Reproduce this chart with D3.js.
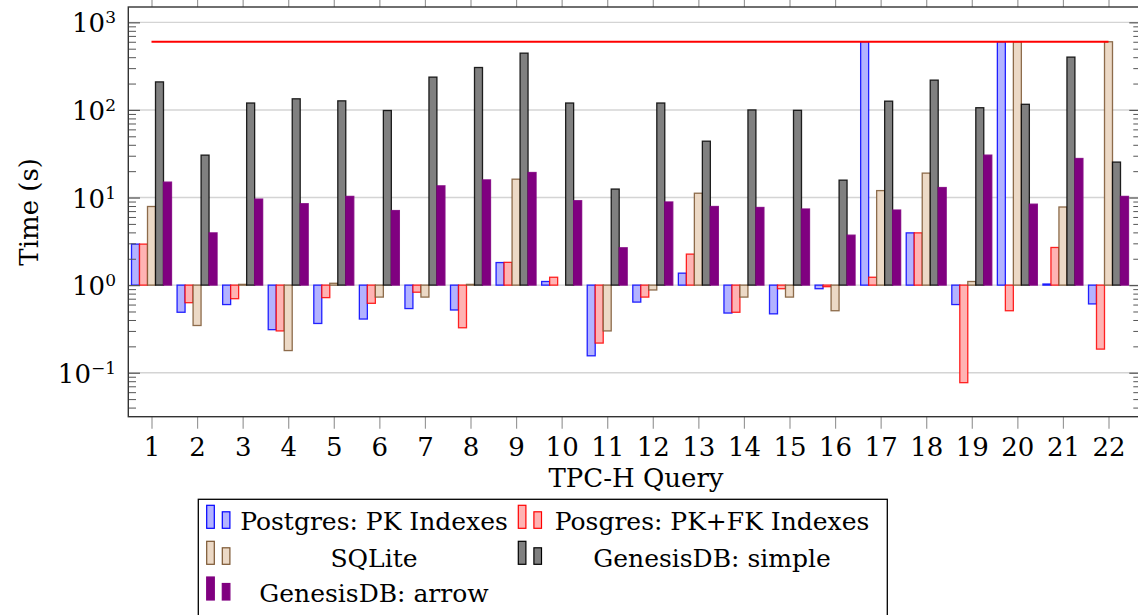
<!DOCTYPE html>
<html>
<head>
<meta charset="utf-8">
<script src="https://cdn.jsdelivr.net/npm/d3@7"></script>
<style>
    html, body { margin: 0; padding: 0; background: #fff; }
    svg { display: block; }
    svg text { font-family: "DejaVu Serif", "Liberation Serif", serif; }
</style>
</head>
<body>
<svg id="chart"></svg>
<script>
// TPC-H query times in seconds
const queries = [1, 2, 3, 4, 5, 6, 7, 8, 9, 10, 11, 12, 13, 14, 15, 16, 17, 18, 19, 20, 21, 22];
const pgPk   = [2.94, 0.49, 0.60, 0.31, 0.365, 0.41, 0.54, 0.52, 1.81, 1.10, 0.156, 0.64, 1.37, 0.48, 0.47, 0.91, 600, 3.95, 0.60, 600, 1.03, 0.61];
const pgPkFk = [2.94, 0.63, 0.70, 0.30, 0.72, 0.62, 0.83, 0.326, 1.82, 1.23, 0.218, 0.73, 2.26, 0.49, 0.91, 0.96, 1.23, 3.95, 0.077, 0.51, 2.69, 0.186];
const sqlite = [7.9, 0.346, 1.02, 0.179, 1.05, 0.73, 0.73, 1.02, 16.2, 1.0, 0.30, 0.88, 11.2, 0.73, 0.73, 0.51, 12.0, 19.0, 1.10, 600, 7.8, 600];
const gdbSimple = [209, 30.5, 120, 134, 127, 98.5, 237, 305, 445, 120, 12.5, 120, 44, 100, 99, 15.8, 126, 219, 106, 116, 401, 25.4];
const gdbArrow  = [15.0, 3.95, 9.6, 8.5, 10.3, 7.1, 13.6, 15.9, 19.3, 9.2, 2.67, 8.9, 7.9, 7.7, 7.4, 3.72, 7.2, 13.0, 30.5, 8.4, 27.9, 10.3];
const timeout = 600;

const seriesNames = ["Postgres: PK Indexes", "Posgres: PK+FK Indexes", "SQLite", "GenesisDB: simple", "GenesisDB: arrow"];
const seriesValues = [pgPk, pgPkFk, sqlite, gdbSimple, gdbArrow];
const yMajor = [0.1, 1, 10, 100, 1000];

const fills   = ["#b3b3ff", "#ffb3b3", "#ecd9c6", "#808080", "#800080"];
const strokes = ["#0000ff", "#ff0000", "#7a5530", "#000000", "#800080"];

let width = 1138, height = 615;
const plotLeft = 128.3, plotRight = 1141, plotTop = 7, plotBottom = 416.7;
const fontSize = 25;
const fontFamily = "DejaVu Serif";

let svg = d3.select("#chart")
    .attr("width", width)
    .attr("height", height);

let x = d3.scaleLinear().domain([1, 22]).range([151.5, 1108.5]);
let y = d3.scaleLog().domain([Math.pow(10, -1.502), Math.pow(10, 3.175)]).range([plotBottom, plotTop]);
let inner = d3.scaleBand().domain(seriesNames).range([-20, 20]);

// minor log ticks 2..9 per decade
let minor = [];
[-2, -1, 0, 1, 2, 3].forEach(function (e) {
    for (let m = 2; m <= 9; m++) {
        let v = m * Math.pow(10, e);
        if (v > y.domain()[0] && v < y.domain()[1]) minor.push(v);
    }
});

// horizontal grid
svg.append("g")
    .selectAll("line")
    .data(yMajor)
    .enter()
    .append("line")
    .attr("x1", plotLeft).attr("x2", plotRight)
    .attr("y1", function (d) { return y(d); })
    .attr("y2", function (d) { return y(d); })
    .attr("stroke", "#d4d4d4")
    .attr("stroke-width", 1.4);

// bars
let rows = [];
queries.forEach(function (q, i) {
    seriesNames.forEach(function (s, j) {
        rows.push({q: q, s: s, j: j, v: seriesValues[j][i]});
    });
});

svg.append("g")
    .selectAll("rect")
    .data(rows)
    .enter()
    .append("rect")
    .attr("x", function (d) { return x(d.q) + inner(d.s); })
    .attr("width", inner.bandwidth())
    .attr("y", function (d) { return Math.min(y(d.v), y(1)); })
    .attr("height", function (d) { return Math.abs(y(d.v) - y(1)); })
    .attr("fill", function (d) { return fills[d.j]; })
    .attr("stroke", function (d) { return strokes[d.j]; })
    .attr("stroke-opacity", 0.85)
    .attr("stroke-width", 1.3);

// timeout line
svg.append("path")
    .datum([queries[0], queries[queries.length - 1]])
    .attr("d", d3.line()
        .x(function (d) { return x(d); })
        .y(function () { return y(timeout); }))
    .attr("fill", "none")
    .attr("stroke", "#ff0000")
    .attr("stroke-width", 2);

// y axes, left and right, ticks pointing in
function yTicks(g, side) {
    let mk = side === "left" ? d3.axisLeft : d3.axisRight;
    g.call(mk(y).tickValues(minor).tickSize(-7.7).tickFormat(""))
        .call(function (s) { s.select(".domain").remove(); });
    g.selectAll(".tick line").attr("stroke", "#555").attr("stroke-width", 1);
    let m = g.append("g").call(mk(y).tickValues(yMajor).tickSize(-11.7).tickFormat(""));
    m.select(".domain").remove();
    m.selectAll(".tick line").attr("stroke", "#555").attr("stroke-width", 1.2);
}
svg.append("g").attr("transform", "translate(" + plotLeft + ",0)").call(yTicks, "left");
svg.append("g").attr("transform", "translate(" + plotRight + ",0)").call(yTicks, "right");

// y tick labels 10^n
let yl = svg.append("g")
    .selectAll("text")
    .data(yMajor)
    .enter()
    .append("text")
    .attr("x", 116)
    .attr("y", function (d) { return y(d) + 10; })
    .attr("text-anchor", "end")
    .attr("font-family", fontFamily)
    .attr("font-size", fontSize + 1)
    .attr("fill", "#000");
yl.append("tspan").text("10");
yl.append("tspan")
    .attr("font-size", 17)
    .attr("dy", -9)
    .text(function (d) { return d3.format("d")(Math.log10(d)).replace("-", "\u2212"); });

// x axes: bottom with labels, top ticks only
let xb = svg.append("g")
    .attr("transform", "translate(0," + plotBottom + ")")
    .call(d3.axisBottom(x).tickValues(queries).tickSize(12).tickPadding(9).tickFormat(d3.format("d")));
xb.select(".domain").remove();
xb.selectAll(".tick line").attr("stroke", "#999").attr("stroke-width", 1.2);
xb.selectAll(".tick text")
    .attr("font-size", fontSize + 1)
    .attr("font-family", fontFamily)
    .attr("fill", "#000");

let xt = svg.append("g")
    .attr("transform", "translate(0," + plotTop + ")")
    .call(d3.axisTop(x).tickValues(queries).tickSize(8).tickFormat(""));
xt.select(".domain").remove();
xt.selectAll(".tick line").attr("stroke", "#999").attr("stroke-width", 1.2);

// frame
svg.append("rect")
    .attr("x", plotLeft).attr("y", plotTop)
    .attr("width", plotRight - plotLeft).attr("height", plotBottom - plotTop)
    .attr("fill", "none")
    .attr("stroke", "#333")
    .attr("stroke-width", 1.4);

// axis titles
svg.append("text")
    .attr("x", 636)
    .attr("y", 487)
    .attr("text-anchor", "middle")
    .attr("font-family", fontFamily)
    .attr("font-size", fontSize + 1)
    .text("TPC-H Query");

svg.append("text")
    .attr("transform", "translate(38," + ((plotTop + plotBottom) / 2) + ") rotate(-90)")
    .attr("text-anchor", "middle")
    .attr("font-family", fontFamily)
    .attr("font-size", fontSize + 1)
    .text("Time (s)");

// legend
let lg = svg.append("g");
lg.append("rect")
    .attr("x", 198.3).attr("y", 499.3)
    .attr("width", 689).attr("height", 140)
    .attr("fill", "#fff")
    .attr("stroke", "#000")
    .attr("stroke-width", 1.3);

const iconX = [206.7, 518.3], textX = [374, 712];
const rowBottom = [528.3, 564.3, 600], rowBase = [530, 566.5, 601.5];

let items = lg.selectAll("g.item")
    .data(seriesNames)
    .enter()
    .append("g")
    .attr("class", "item");

items.append("rect")
    .attr("x", function (d, i) { return iconX[i % 2]; })
    .attr("y", function (d, i) { return rowBottom[Math.floor(i / 2)] - 23; })
    .attr("width", 7.6).attr("height", 23)
    .attr("fill", function (d, i) { return fills[i]; })
    .attr("stroke", function (d, i) { return strokes[i]; })
    .attr("stroke-width", 1.2);
items.append("rect")
    .attr("x", function (d, i) { return iconX[i % 2] + 15.6; })
    .attr("y", function (d, i) { return rowBottom[Math.floor(i / 2)] - 16.5; })
    .attr("width", 7.6).attr("height", 16.5)
    .attr("fill", function (d, i) { return fills[i]; })
    .attr("stroke", function (d, i) { return strokes[i]; })
    .attr("stroke-width", 1.2);
items.append("text")
    .attr("x", function (d, i) { return textX[i % 2]; })
    .attr("y", function (d, i) { return rowBase[Math.floor(i / 2)]; })
    .attr("text-anchor", "middle")
    .attr("font-family", fontFamily)
    .attr("font-size", fontSize)
    .text(function (d) { return d; });
</script>
</body>
</html>
